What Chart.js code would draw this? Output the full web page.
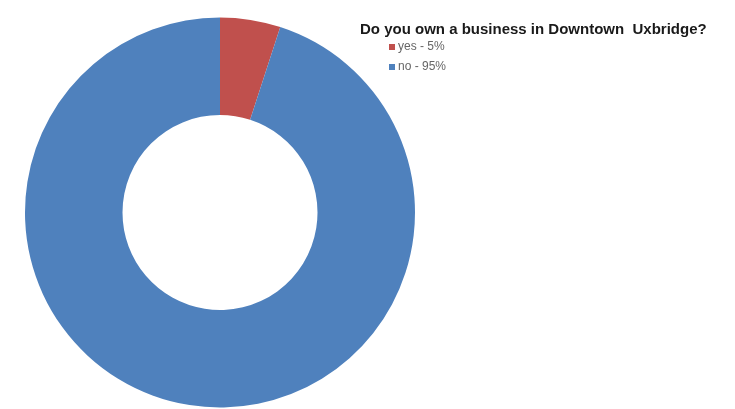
<!DOCTYPE html>
<html>
<head>
<meta charset="utf-8">
<script src="https://cdn.jsdelivr.net/npm/chart.js@4"></script>
<style>
    html, body { margin: 0; padding: 0; background: #fff; }
    #wrap { width: 735px; height: 409px; }
</style>
</head>
<body>
<div id="wrap"><canvas id="donut-chart" width="735" height="409"></canvas></div>
<script>
const question = "Do you own a business in Downtown  Uxbridge?";
const answers = ["yes", "no"];
const answerShares = [5, 95];
const answerColors = ["#C0504D", "#4F81BD"];

const legendLabels = answers.map((name, i) => `${name} - ${answerShares[i]}%`);

// title + legend drawn next to the ring
const sideLegend = {
    id: "sideLegend",
    afterDraw: (chart) => {
        const ctx = chart.ctx;
        ctx.save();
        ctx.textBaseline = "middle";
        ctx.fillStyle = "#1a1a1a";
        ctx.font = "bold 15px 'Liberation Sans', Arial, sans-serif";
        ctx.fillText(question, 360, 30);

        ctx.font = "12px 'Liberation Sans', Arial, sans-serif";
        legendLabels.forEach((label, i) => {
            const y = 47 + i * 20;
            ctx.fillStyle = answerColors[i];
            ctx.fillRect(389, y - 3, 6, 6);
            ctx.fillStyle = "#666";
            ctx.fillText(label, 398, y);
        });
        ctx.restore();
    },
};

const donutChart = new Chart(document.getElementById("donut-chart"), {
    type: "doughnut",
    data: {
        labels: legendLabels,
        datasets: [
            {
                data: answerShares,
                backgroundColor: answerColors,
                borderWidth: 0,
            },
        ],
    },
    options: {
        responsive: false,
        animation: false,
        cutout: "50%",
        layout: { padding: { left: 25, top: 16, right: 320, bottom: 0 } },
        plugins: {
            legend: { display: false },
            title: { display: false },
            tooltip: { enabled: false },
        },
    },
    plugins: [sideLegend],
});
</script>
</body>
</html>
